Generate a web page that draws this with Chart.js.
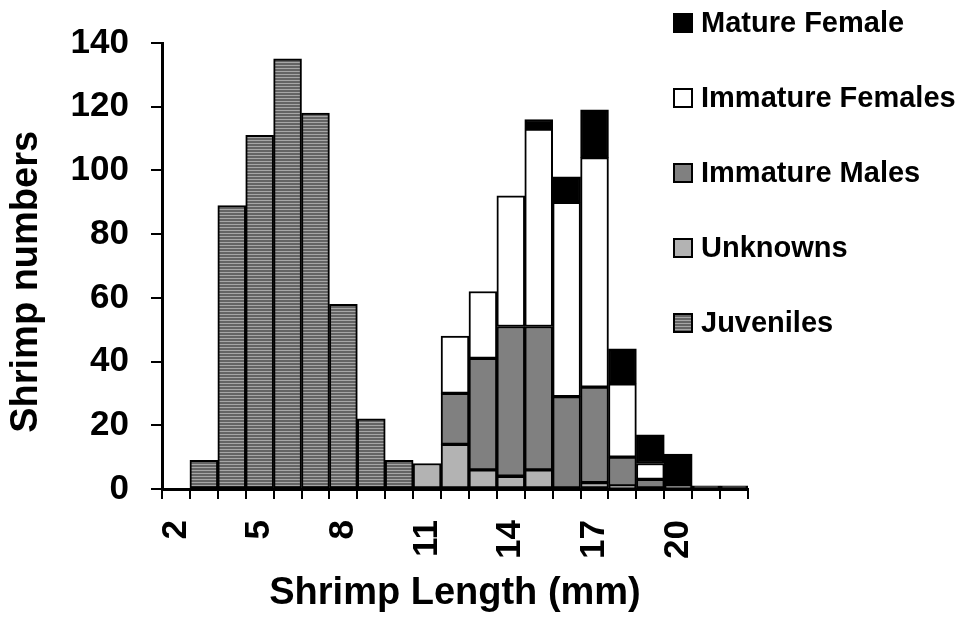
<!DOCTYPE html>
<html>
<head>
<meta charset="utf-8">
<script src="https://cdn.jsdelivr.net/npm/chart.js@4"></script>
<style>
  html, body { margin: 0; padding: 0; background: #ffffff; }
  #c { display: block; }
</style>
</head>
<body>
<canvas id="c" width="964" height="626"></canvas>
<script>
// ---- Data ----
const lengths = [2, 3, 4, 5, 6, 7, 8, 9, 10, 11, 12, 13, 14, 15, 16, 17, 18, 19, 20, 21, 22];
const juveniles       = [null, 9, 89, 111, 135, 118, 58, 22, 9, null, null, null, null, null, null, null, null, null, null, null, null];
const unknowns        = [null, null, null, null, null, null, null, null, null, 8, 14, 6, 4, 6, null, 2, 1, null, null, null, null];
const immatureMales   = [null, null, null, null, null, null, null, null, null, null, 16, 35, 47, 45, 29, 30, 9, 3, 1, null, null];
const immatureFemales = [null, null, null, null, null, null, null, null, null, null, 18, 21, 41, 62, 61, 72, 23, 5, null, null, null];
const matureFemale    = [null, null, null, null, null, null, null, null, null, null, null, null, null, 3, 8, 15, 11, 9, 10, 1, 1];
const yTicks = [0, 20, 40, 60, 80, 100, 120, 140];
const shownLengthLabels = [2, 5, 8, 11, 14, 17, 20];

// ---- Striped fill for juveniles ----
function stripePattern() {
  const p = document.createElement('canvas');
  p.width = 4; p.height = 3;
  const g = p.getContext('2d');
  g.fillStyle = '#646464';
  g.fillRect(0, 0, 4, 3);
  g.fillStyle = '#a6a6a6';
  g.fillRect(0, 2, 4, 1);
  return g.createPattern(p, 'repeat');
}
const juvFill = stripePattern();

const FONT = "'Liberation Sans', Arial, Helvetica, sans-serif";

function ds(label, data, color) {
  return {
    label: label,
    data: data,
    backgroundColor: color,
    borderColor: '#000000',
    borderWidth: 2,
    borderSkipped: false,
    barPercentage: 1.0,
    categoryPercentage: 1.0,
    stack: 's'
  };
}

// custom legend drawn on the canvas (overlaps the plot area's right part like the reference)
const sideLegend = {
  id: 'sideLegend',
  afterDraw(chart) {
    const ctx = chart.ctx;
    const sets = chart.data.datasets.slice().reverse();
    ctx.save();
    ctx.font = 'bold 29px ' + FONT;
    ctx.textBaseline = 'middle';
    ctx.textAlign = 'left';
    sets.forEach((d, i) => {
      const cy = 23 + i * 75;
      ctx.fillStyle = d.backgroundColor;
      ctx.fillRect(673, cy - 10, 20, 20);
      ctx.lineWidth = 2;
      ctx.strokeStyle = '#000000';
      ctx.strokeRect(674, cy - 9, 18, 18);
      ctx.fillStyle = '#000000';
      ctx.fillText(d.label, 701, cy + 1);
    });
    ctx.restore();
  }
};

new Chart(document.getElementById('c'), {
  type: 'bar',
  data: {
    labels: lengths,
    datasets: [
      ds('Juveniles', juveniles, juvFill),
      ds('Unknowns', unknowns, '#b3b3b3'),
      ds('Immature Males', immatureMales, '#808080'),
      ds('Immature Females', immatureFemales, '#ffffff'),
      ds('Mature Female', matureFemale, '#000000')
    ]
  },
  options: {
    responsive: false,
    animation: false,
    devicePixelRatio: 1,
    layout: { padding: { left: 0, right: 216, top: 37, bottom: 0 } },
    plugins: {
      legend: { display: false },
      tooltip: { enabled: false }
    },
    scales: {
      x: {
        stacked: true,
        offset: true,
        grid: {
          offset: true,
          drawOnChartArea: false,
          drawTicks: true,
          tickLength: 10,
          color: '#000000',
          lineWidth: 2
        },
        border: { display: true, color: '#000000', width: 3 },
        ticks: {
          autoSkip: false,
          maxRotation: 90,
          minRotation: 90,
          padding: 21,
          color: '#000000',
          font: { family: FONT, size: 35, weight: 'bold' },
          callback: function (v, i) {
            const lab = lengths[i];
            return shownLengthLabels.includes(lab) ? String(lab) : '';
          }
        },
        title: {
          display: true,
          text: 'Shrimp Length (mm)',
          color: '#000000',
          font: { family: FONT, size: 38, weight: 'bold' },
          padding: { top: 0, bottom: 10 }
        },
        afterFit: function (s) { s.height = 137; }
      },
      y: {
        stacked: true,
        min: 0,
        max: 140,
        afterBuildTicks: function (s) { s.ticks = yTicks.map(v => ({ value: v })); },
        grid: {
          drawOnChartArea: false,
          drawTicks: true,
          tickLength: 11,
          color: '#000000',
          lineWidth: 2
        },
        border: { display: true, color: '#000000', width: 3 },
        ticks: {
          padding: 22,
          color: '#000000',
          font: { family: FONT, size: 35, weight: 'bold' }
        },
        title: {
          display: true,
          text: 'Shrimp numbers   ',
          color: '#000000',
          font: { family: FONT, size: 38, weight: 'bold' },
          padding: { top: 4, bottom: 0 }
        },
        afterFit: function (s) { s.width = 162; }
      }
    }
  },
  plugins: [sideLegend]
});
</script>
</body>
</html>
